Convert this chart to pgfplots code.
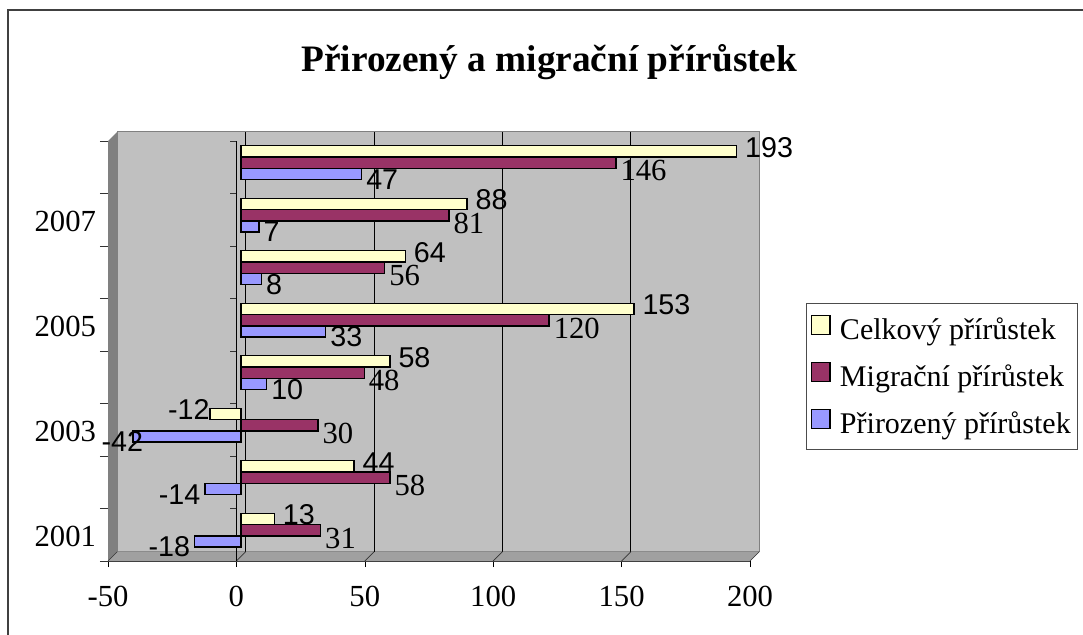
\documentclass[border=0pt]{standalone}
\usepackage{fontspec}
\setmainfont{Liberation Serif}
\newfontfamily\arial{Liberation Sans}
\usepackage{pgfplots}
\pgfplotsset{compat=1.18}
\definecolor{celk}{HTML}{FFFFCC}
\definecolor{migr}{HTML}{993366}
\definecolor{priro}{HTML}{9999FF}
\definecolor{wallc}{HTML}{C0C0C0}
\definecolor{sidec}{HTML}{808080}
\definecolor{floorc}{HTML}{A0A0A0}
\def\dd{7pt}
\begin{document}
\begin{tikzpicture}
\useasboundingbox (0,0) rectangle (812.25pt,-476.25pt);
% outer frame (only top and left edge are visible)
\draw[line width=1.1pt, black!75] (6pt,-476.25pt) -- (6pt,-7.5pt) -- (812.25pt,-7.5pt);
\node[font=\bfseries\fontsize{28}{33}\selectfont] at (412pt,-46.5pt) {Přirozený a migrační přírůstek};
\begin{axis}[
  at={(81pt,-420.75pt)}, anchor=south west,
  scale only axis, width=481.5pt, height=315pt,
  xmin=-50, xmax=200, ymin=0.5, ymax=8.5,
  axis x line*=bottom, axis y line*=left,
  x axis line style={black!80, line width=0.9pt},
  y axis line style={draw=none},
  xtick={-50,0,50,100,150,200},
  xticklabels={-50,0,50,100,150,200},
  ytick={1,3,5,7},
  yticklabels={2001,2003,2005,2007},
  minor ytick={0.5,1.5,...,8.5},
  tick align=outside,
  major tick length=4.5pt, minor tick length=6pt,
  major y tick style={draw=none},
  minor y tick style={black!80},
  major x tick style={black},
  tick label style={font=\fontsize{23}{27}\selectfont},
  xticklabel style={yshift=-11pt},
  yticklabel style={xshift=-1pt, yshift=-1pt},
  clip=false,
  xbar, bar width=0.215,
  point meta=x,
  nodes near coords={\pgfmathprintnumber[assume math mode=true]{\pgfplotspointmeta}},
  visualization depends on={x \as \xv},
  legend style={at={(1.087,0.614)}, anchor=north west, draw=black!70,
    font=\fontsize{22.5}{26}\selectfont, row sep=14.5pt, inner xsep=3.5pt, inner ysep=9pt,
    nodes={inner sep=1pt}},
  legend cell align=left,
  legend image code/.code={\draw[#1, line width=0.8pt] (2pt,-7pt) rectangle (16pt,7pt); \path (22pt,0pt);},
]
% 3D walls and floor
\fill[wallc, draw=sidec] ([shift={(\dd,\dd)}]rel axis cs:0,0) rectangle ([shift={(\dd,\dd)}]rel axis cs:1,1);
\fill[sidec] (rel axis cs:0,0) -- (rel axis cs:0,1) -- ([shift={(\dd,\dd)}]rel axis cs:0,1) -- ([shift={(\dd,\dd)}]rel axis cs:0,0) -- cycle;
\fill[floorc] (rel axis cs:0,0) -- (rel axis cs:1,0) -- ([shift={(\dd,\dd)}]rel axis cs:1,0) -- ([shift={(\dd,\dd)}]rel axis cs:0,0) -- cycle;
\pgfplotsinvokeforeach{0,50,100,150}{
  \draw[black, line width=0.7pt] ([shift={(\dd,\dd)}]axis cs:#1,0.5) -- ([shift={(\dd,\dd)}]axis cs:#1,8.5);
}
\pgfplotsinvokeforeach{-50,0,50,100,150,200}{
  \draw[black!80, line width=0.5pt] (axis cs:#1,0.5) -- ++(\dd,\dd);
}
\draw[black, line width=0.7pt] (axis cs:0,0.5) -- (axis cs:0,8.5);
\pgfplotsinvokeforeach{0.5,1.5,2.5,3.5,4.5,5.5,6.5,7.5,8.5}{
  \draw[black!80] (axis cs:0,#1) -- ++(-5pt,0pt);
}
\addplot[fill=celk, draw=black, line width=1pt, bar shift=0.215, xshift=3.4pt, yshift=3.4pt,
  every node near coord/.append style={font=\arial\fontsize{21.5}{25}\selectfont, inner sep=3pt,
    yshift=3pt, xshift=3pt}]
  coordinates {(13,1) (44,2) (-12,3) (58,4) (153,5) (64,6) (88,7) (193,8)};
\addlegendentry{Celkový přírůstek}
\addplot[fill=migr, draw=black, line width=1pt, bar shift=0, xshift=3.4pt, yshift=3.4pt,
  every node near coord/.append style={font=\fontsize{23}{27}\selectfont, inner sep=3pt, yshift=-6pt}]
  coordinates {(31,1) (58,2) (30,3) (48,4) (120,5) (56,6) (81,7) (146,8)};
\addlegendentry{Migrační přírůstek}
\addplot[fill=priro, draw=black, line width=1pt, bar shift=-0.215, xshift=3.4pt, yshift=3.4pt,
  every node near coord/.append style={font=\arial\fontsize{21.5}{25}\selectfont, inner sep=3pt, yshift=-4pt,
    xshift={(\xv<-40)*11pt}}]
  coordinates {(-18,1) (-14,2) (-42,3) (10,4) (33,5) (8,6) (7,7) (47,8)};
\addlegendentry{Přirozený přírůstek}
\end{axis}
\end{tikzpicture}
\end{document}
